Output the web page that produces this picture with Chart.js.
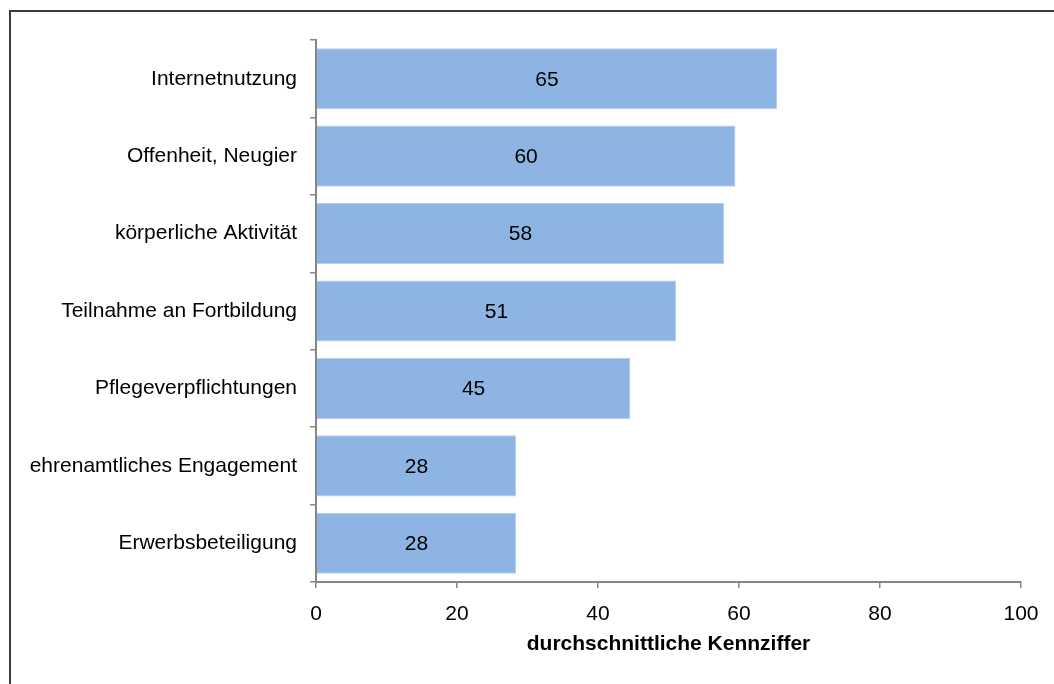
<!DOCTYPE html>
<html>
<head>
<meta charset="utf-8">
<script src="https://cdn.jsdelivr.net/npm/chart.js@4/dist/chart.umd.min.js"></script>
<style>
  html, body { margin: 0; padding: 0; background: #fff; }
  #wrap { position: absolute; left: 0; top: 0; width: 1054px; height: 684px; }
  #frame {
    position: absolute; left: 9px; top: 10px; right: 0; bottom: 0;
    border-left: 2px solid #3c3c3c; border-top: 2px solid #3c3c3c;
    pointer-events: none;
  }
</style>
</head>
<body>
<div id="wrap">
  <canvas id="chart" width="1054" height="684"></canvas>
  <div id="frame"></div>
</div>
<script>
// Chart data
const categories = [
  'Internetnutzung',
  'Offenheit, Neugier',
  'körperliche Aktivität',
  'Teilnahme an Fortbildung',
  'Pflegeverpflichtungen',
  'ehrenamtliches Engagement',
  'Erwerbsbeteiligung'
];
const values = [65.4, 59.5, 57.9, 51.1, 44.6, 28.4, 28.4];
const xTicks = [0, 20, 40, 60, 80, 100];
const xTitle = 'durchschnittliche Kennziffer';

const FONT = "'Liberation Sans', Arial, sans-serif";
const FONT_SIZE = 21;
const AXIS_GREY = '#868686';

// Draws the rounded value in the middle of each bar
const barLabels = {
  id: 'barLabels',
  afterDatasetsDraw(chart) {
    const ctx = chart.ctx;
    const meta = chart.getDatasetMeta(0);
    ctx.save();
    ctx.font = FONT_SIZE + 'px ' + FONT;
    ctx.fillStyle = '#000';
    ctx.textAlign = 'center';
    ctx.textBaseline = 'middle';
    meta.data.forEach(function(bar, i) {
      const cx = (bar.base + bar.x) / 2;
      ctx.fillText(String(Math.round(values[i])), cx, bar.y + 1);
    });
    ctx.restore();
  }
};

new Chart(document.getElementById('chart'), {
  type: 'bar',
  data: {
    labels: categories,
    datasets: [{
      data: values,
      backgroundColor: '#8EB4E3',
      borderColor: '#B4CDEE',
      borderWidth: 1,
      barPercentage: 0.79,
      categoryPercentage: 1.0
    }]
  },
  options: {
    indexAxis: 'y',
    responsive: false,
    animation: false,
    layout: { padding: { top: 40, right: 33, left: 0, bottom: 0 } },
    plugins: {
      legend: { display: false },
      tooltip: { enabled: false }
    },
    scales: {
      x: {
        min: 0,
        max: 100,
        afterBuildTicks: function(scale) {
          scale.ticks = xTicks.map(function(v) { return { value: v }; });
        },
        afterFit: function(scale) { scale.height = 102; },
        grid: {
          drawOnChartArea: false,
          drawTicks: true,
          tickLength: 6,
          color: AXIS_GREY,
          lineWidth: 1.5
        },
        border: { display: true, color: AXIS_GREY, width: 2 },
        ticks: {
          color: '#000',
          font: { family: FONT, size: FONT_SIZE },
          padding: 14,
          maxRotation: 0
        },
        title: {
          display: true,
          text: xTitle,
          color: '#000',
          font: { family: FONT, size: FONT_SIZE, weight: 'bold' },
          padding: { top: 6, bottom: 27 }
        }
      },
      y: {
        afterFit: function(scale) { scale.width = 316; },
        grid: {
          drawOnChartArea: false,
          drawTicks: true,
          tickLength: 6,
          color: AXIS_GREY,
          lineWidth: 1.5,
          offset: true
        },
        border: { display: true, color: AXIS_GREY, width: 2 },
        ticks: {
          color: '#000',
          font: { family: FONT, size: FONT_SIZE },
          padding: 13
        }
      }
    }
  },
  plugins: [barLabels]
});
</script>
</body>
</html>
